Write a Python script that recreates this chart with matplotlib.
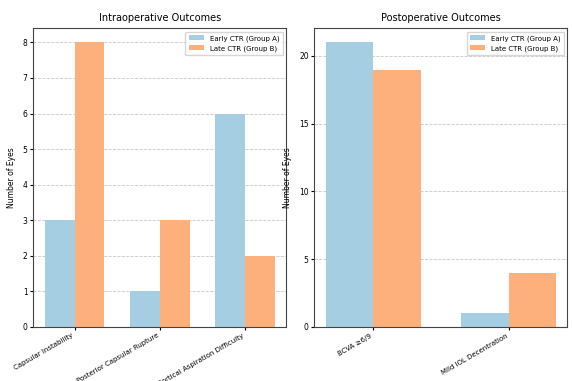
import numpy as np
import matplotlib
matplotlib.use("Agg")
import matplotlib.pyplot as plt
from matplotlib.ticker import MaxNLocator

intra_labels = ["Capsular Instability", "Posterior Capsular Rupture", "Cortical Aspiration Difficulty"]
intra_early = [3, 1, 6]
intra_late = [8, 3, 2]

post_labels = ["BCVA \u22656/9", "Mild IOL Decentration"]
post_early = [21, 1]
post_late = [19, 4]

C_EARLY = "#a6cee3"
C_LATE = "#fdb07c"
W = 0.35

fig, axes = plt.subplots(1, 2, figsize=(5.72, 3.81), dpi=100)
panels = [(axes[0], intra_labels, intra_early, intra_late, "Intraoperative Outcomes"),
          (axes[1], post_labels, post_early, post_late, "Postoperative Outcomes")]
for ax, labels, a, b, title in panels:
    x = np.arange(len(labels))
    ax.bar(x - W / 2, a, W, color=C_EARLY, label="Early CTR (Group A)")
    ax.bar(x + W / 2, b, W, color=C_LATE, label="Late CTR (Group B)")
    ax.set_xticks(x)
    ax.set_xticklabels(labels, rotation=30, ha="right", fontsize=5)
    ax.tick_params(axis="y", labelsize=5.5, length=2, pad=2)
    ax.tick_params(axis="x", length=2, pad=2)
    ax.set_ylabel("Number of Eyes", fontsize=5.5, labelpad=5)
    ax.set_title(title, fontsize=7, pad=5)
    ax.grid(axis="y", linestyle="--", color="#bbbbbb", linewidth=0.6, alpha=0.8)
    ax.set_axisbelow(True)
    for s in ax.spines.values():
        s.set_color("#444444")
        s.set_linewidth(0.8)
    ax.legend(fontsize=5, loc="upper right", handlelength=2.2, borderpad=0.5)

axes[0].yaxis.set_major_locator(MaxNLocator(integer=True, steps=[1]))
axes[1].yaxis.set_major_locator(MaxNLocator(nbins=5, integer=True, steps=[5, 10]))
fig.subplots_adjust(left=0.058, right=0.992, top=0.926, bottom=0.142, wspace=0.11)
fig.savefig("out.png")
